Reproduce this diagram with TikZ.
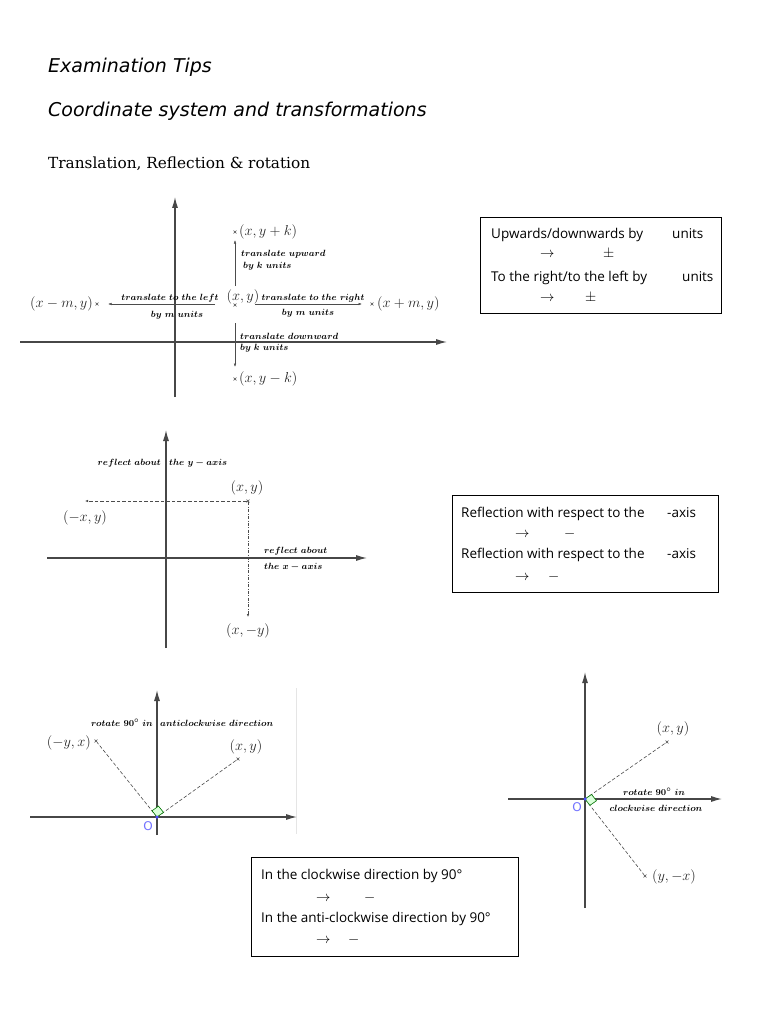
\documentclass[tikz,border=0pt]{standalone}
\usepackage{fontspec}
\usepackage{amsmath}
\usetikzlibrary{arrows.meta,calc,shapes.misc}
\newfontfamily\handfont{DejaVu Sans}
\newfontfamily\boxfont{Open Sans}
\newfontfamily\headfont{DejaVu Serif}
\begin{document}
\begin{tikzpicture}[x=1pt,y=-1pt,
  axis/.style={draw=black!72, line width=1.2pt, -{Latex[length=11pt,width=6pt]}},
  tr/.style={draw=black!70, line width=0.5pt, -{Latex[length=3.5pt,width=2.5pt]}},
  dsh/.style={draw=black!70, line width=0.6pt, dash pattern=on 3.5pt off 2pt},
  dshdot/.style={draw=black!70, line width=0.6pt, dash pattern=on 3pt off 1.5pt on 0.8pt off 1.5pt},
  mk/.style={cross out, draw=black!70, line width=0.4pt, minimum size=2.5pt, inner sep=0pt},
  ml/.style={font=\fontsize{13.5}{16}\selectfont, text=black!85, inner sep=0pt},
  bl/.style={font=\fontsize{9.5}{11}\selectfont\boldmath, text=black, inner sep=0pt},
  boxnode/.style={draw=black, line width=0.8pt, rectangle, inner sep=0pt, anchor=north west},
  bt/.style={font=\boxfont\fontsize{13.5}{16}\selectfont, inner sep=0pt, anchor=base west},
  bsym/.style={font=\fontsize{15}{17}\selectfont, inner sep=0pt, anchor=base west},
  ttl/.style={font=\handfont\itshape\fontsize{19}{22}\selectfont, inner sep=0pt, anchor=base west},
  ang/.style={draw=green!45!black, line width=0.6pt, fill=green!15},
  orig/.style={circle, fill=blue!70, inner sep=0pt, minimum size=3.5pt},
  olab/.style={font=\handfont\fontsize{12}{14}\selectfont, text=blue!55, inner sep=0pt}
]
\useasboundingbox (0,0) rectangle (768,1024);
\fill[white] (0,0) rectangle (768,1024);

% ---------- titles ----------
\node[ttl] (t1) at (48,73) {Examination Tips};
\node[ttl] (t2) at (48,117) {Coordinate system and transformations};
\node[font=\headfont\fontsize{15.3}{18}\selectfont, inner sep=0pt, anchor=base west] (t3) at (48,169) {Translation, Reflection \& rotation};

% ---------- diagram 1: translation ----------
\coordinate (a1l) at (20,342); \coordinate (a1r) at (447,342);
\coordinate (a1b) at (175,397); \coordinate (a1t) at (175,197);
\draw[axis] (a1l) -- (a1r);
\draw[axis] (a1b) -- (a1t);
\node[mk] (P) at (235,305) {};
\node[ml] (Pl) at (243,297) {$(x,y)$};
\node[mk] (Pu) at (235,232) {};
\node[ml, anchor=west] (Pul) at (239,232) {$(x,y+k)$};
\node[mk] (Pd) at (235,379) {};
\node[ml, anchor=west] (Pdl) at (239,379) {$(x,y-k)$};
\node[mk] (Pm) at (97,304) {};
\node[ml, anchor=east] (Pml) at (93,304) {$(x-m,y)$};
\node[mk] (Pp) at (372,304) {};
\node[ml, anchor=west] (Ppl) at (377,304) {$(x+m,y)$};
\coordinate (u0) at (235,286); \coordinate (u1) at (235,240);
\coordinate (d0) at (235,323); \coordinate (d1) at (235,367);
\coordinate (l0) at (215,304); \coordinate (l1) at (108,304);
\coordinate (r0) at (255,304); \coordinate (r1) at (362,304);
\draw[tr] (u0) -- (u1);
\draw[tr] (d0) -- (d1);
\draw[tr] (l0) -- (l1);
\draw[tr] (r0) -- (r1);
\node[bl, anchor=west] (tu1) at (241,254) {$translate\ upward$};
\node[bl, anchor=west] (tu2) at (243,266) {$by\ k\ units$};
\node[bl] (tl1) at (170,298) {$translate\ to\ the\ left$};
\node[bl] (tl2) at (177,315) {$by\ m\ units$};
\node[bl] (tr1) at (313,298) {$translate\ to\ the\ right$};
\node[bl] (tr2) at (308,313) {$by\ m\ units$};
\node[bl, anchor=west] (td1) at (240,336) {$translate\ downward$};
\node[bl, anchor=west] (td2) at (240,348) {$by\ k\ units$};

% ---------- box 1 ----------
\node[boxnode, minimum width=241, minimum height=96] (B1) at (480,217) {};
\node[bt] (b1a) at (491,238) {Upwards/downwards by};
\node[bt] (b1b) at (672,238) {units};
\node[bsym] (b1c) at (540,257) {$\rightarrow$};
\node[bsym] (b1d) at (603,257) {$\pm$};
\node[bt] (b1e) at (491,281) {To the right/to the left by};
\node[bt] (b1f) at (682,281) {units};
\node[bsym] (b1g) at (540,301) {$\rightarrow$};
\node[bsym] (b1h) at (585,301) {$\pm$};

% ---------- diagram 2: reflection ----------
\coordinate (a2l) at (47,558); \coordinate (a2r) at (367,558);
\coordinate (a2b) at (166,648); \coordinate (a2t) at (166,430);
\draw[axis] (a2l) -- (a2r);
\draw[axis] (a2b) -- (a2t);
\node[mk] (Q) at (248,501) {};
\node[ml] (Ql) at (247,488) {$(x,y)$};
\coordinate (Qx) at (85,501);
\coordinate (Qy) at (248,617);
\draw[dsh, -{Latex[length=3pt,width=2.5pt]}] (Q) -- (Qx);
\draw[dshdot, -{Latex[length=3pt,width=2.5pt]}] (Q) -- (Qy);
\node[ml] (Qxl) at (85,518) {$(-x,y)$};
\node[ml] (Qyl) at (248,631) {$(x,-y)$};
\node[bl, anchor=east] (ry1) at (161,463) {$reflect\ about$};
\node[bl, anchor=west] (ry2) at (169,463) {$the\ y-axis$};
\node[bl, anchor=west] (rx1) at (264,551) {$reflect\ about$};
\node[bl, anchor=west] (rx2) at (264,567) {$the\ x-axis$};

% ---------- box 2 ----------
\node[boxnode, minimum width=266, minimum height=97] (B2) at (452,495) {};
\node[bt] (b2a) at (461,517) {Reflection with respect to the};
\node[bt] (b2b) at (667,517) {-axis};
\node[bsym] (b2c) at (515,537) {$\rightarrow$};
\node[bsym] (b2d) at (564,537) {$-$};
\node[bt] (b2e) at (461,558) {Reflection with respect to the};
\node[bt] (b2f) at (667,558) {-axis};
\node[bsym] (b2g) at (515,580) {$\rightarrow$};
\node[bsym] (b2h) at (548,580) {$-$};

% ---------- diagram 3: anticlockwise rotation ----------
\coordinate (a3l) at (30,817); \coordinate (a3r) at (297,817);
\coordinate (a3b) at (157,835); \coordinate (a3t) at (157,690);
\coordinate (e3t) at (296,688); \coordinate (e3b) at (296,834);
\draw[black!10, line width=0.6pt] (e3t) -- (e3b);
\draw[axis] (a3l) -- (a3r);
\draw[axis] (a3b) -- (a3t);
\coordinate (O3) at (157,817);
\node[mk] (R1) at (238,759) {};
\node[mk] (R2) at (96,741) {};
\draw[dsh] (O3) -- (R1);
\draw[dsh] (O3) -- (R2);
\coordinate (s31) at ($(O3)!8pt!(R1)$);
\coordinate (s32) at ($(O3)!8pt!(R2)$);
\draw[ang] (O3) -- (s31) -- ($(s31)+(s32)-(O3)$) -- (s32) -- cycle;
\node[orig] (O3d) at (O3) {};
\node[olab] (O3l) at (148,826) {O};
\node[ml] (R1l) at (246,747) {$(x,y)$};
\node[ml, anchor=east] (R2l) at (91,743) {$(-y,x)$};
\node[bl, anchor=east] (ra1) at (153,723) {$rotate\ 90^\circ\ in$};
\node[bl, anchor=west] (ra2) at (160,723) {$anticlockwise\ direction$};

% ---------- diagram 4: clockwise rotation ----------
\coordinate (a4l) at (508,799); \coordinate (a4r) at (722,799);
\coordinate (a4b) at (585,908); \coordinate (a4t) at (585,672);
\draw[axis] (a4l) -- (a4r);
\draw[axis] (a4b) -- (a4t);
\coordinate (O4) at (585,799);
\node[mk] (S1) at (667,742) {};
\node[mk] (S2) at (645,876) {};
\draw[dsh] (O4) -- (S1);
\draw[dsh] (O4) -- (S2);
\coordinate (s41) at ($(O4)!8pt!(S1)$);
\coordinate (s42) at ($(O4)!8pt!(S2)$);
\draw[ang] (O4) -- (s41) -- ($(s41)+(s42)-(O4)$) -- (s42) -- cycle;
\node[orig] (O4d) at (O4) {};
\node[olab] (O4l) at (577,807) {O};
\node[ml] (S1l) at (673,729) {$(x,y)$};
\node[ml] (S2l) at (674,877) {$(y,-x)$};
\node[bl] (rc1) at (654,792) {$rotate\ 90^\circ\ in$};
\node[bl] (rc2) at (656,808) {$clockwise\ direction$};

% ---------- box 3 ----------
\node[boxnode, minimum width=267, minimum height=99] (B3) at (251,857) {};
\node[bt] (b3a) at (261,879) {In the clockwise direction by 90°};
\node[bsym] (b3c) at (316,901) {$\rightarrow$};
\node[bsym] (b3d) at (364,901) {$-$};
\node[bt] (b3e) at (261,922) {In the anti-clockwise direction by 90°};
\node[bsym] (b3g) at (316,943) {$\rightarrow$};
\node[bsym] (b3h) at (348,943) {$-$};
\end{tikzpicture}
\end{document}
